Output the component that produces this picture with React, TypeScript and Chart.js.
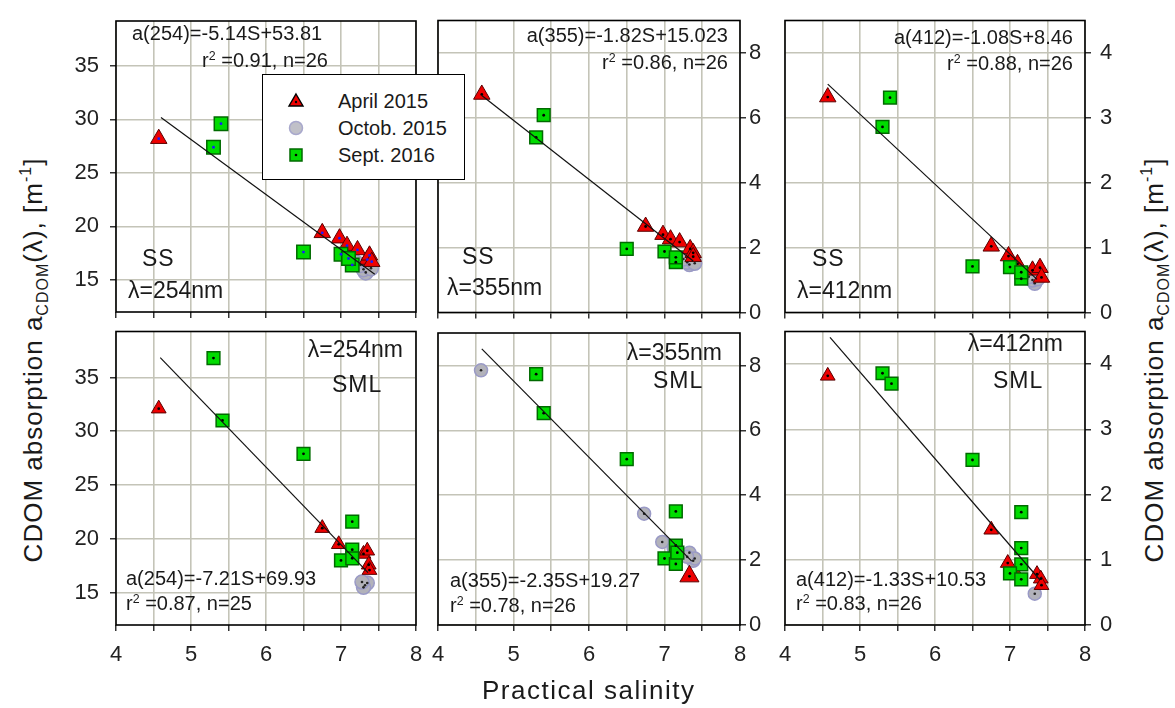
import React, { useEffect, useRef } from 'react';
import { Chart, registerables } from 'chart.js';

Chart.register(...registerables);

type Pt = [number, number];

// ---------- axis ticks ----------
const X_TICKS = [4, 4.5, 5, 5.5, 6, 6.5, 7, 7.5, 8];
const Y_TICKS_254 = [15, 20, 25, 30, 35];
const Y_TICKS_355 = [0, 2, 4, 6, 8];
const Y_TICKS_412 = [0, 1, 2, 3, 4];

const SERIES_NAMES = ['April 2015', 'Octob. 2015', 'Sept. 2016'];

// ---------- SS, 254 nm ----------
const SS254_APRIL: Pt[] = [[4.57, 28.2], [6.75, 19.4], [6.98, 18.9], [7.08, 18.2], [7.22, 17.8], [7.35, 16.9], [7.38, 17.3], [7.41, 16.7]];
const SS254_OCT: Pt[] = [[7.33, 15.7], [7.3, 16.0], [7.37, 16.3], [7.26, 16.4], [7.4, 16.1], [7.2, 16.6]];
const SS254_SEPT: Pt[] = [[5.3, 27.4], [5.4, 29.6], [6.5, 17.6], [7.0, 17.4], [7.15, 16.4], [7.1, 17.0]];
const SS254_FIT: Pt[] = [[4.6, 30.17], [7.45, 15.52]];

// ---------- SS, 355 nm ----------
const SS355_APRIL: Pt[] = [[4.58, 6.72], [6.75, 2.65], [6.98, 2.4], [7.08, 2.26], [7.2, 2.17], [7.34, 1.96], [7.38, 1.84], [7.38, 1.72]];
const SS355_OCT: Pt[] = [[7.33, 1.48], [7.3, 1.55], [7.37, 1.6], [7.25, 1.65], [7.4, 1.52]];
const SS355_SEPT: Pt[] = [[5.3, 5.4], [5.4, 6.08], [6.5, 1.96], [7.0, 1.88], [7.15, 1.55], [7.15, 1.7]];
const SS355_FIT: Pt[] = [[4.58, 6.69], [7.38, 1.59]];

// ---------- SS, 412 nm ----------
const SS412_APRIL: Pt[] = [[4.57, 3.32], [6.75, 1.02], [6.98, 0.87], [7.1, 0.75], [7.3, 0.65], [7.4, 0.69], [7.42, 0.54]];
const SS412_OCT: Pt[] = [[7.33, 0.45], [7.3, 0.5], [7.37, 0.52], [7.25, 0.55]];
const SS412_SEPT: Pt[] = [[5.3, 2.86], [5.4, 3.31], [6.5, 0.71], [7.0, 0.7], [7.15, 0.52], [7.15, 0.62]];
const SS412_FIT: Pt[] = [[4.57, 3.52], [7.36, 0.51]];

// ---------- SML, 254 nm ----------
const SML254_APRIL: Pt[] = [[4.57, 32.1], [6.75, 21.0], [6.97, 19.5], [7.3, 18.6], [7.35, 18.9], [7.37, 17.6], [7.38, 17.1]];
const SML254_OCT: Pt[] = [[7.32, 15.7], [7.35, 15.9], [7.3, 15.5], [7.28, 16.0]];
const SML254_SEPT: Pt[] = [[5.3, 36.8], [5.42, 31.0], [6.5, 27.9], [7.15, 21.6], [7.15, 19.0], [7.0, 18.0], [7.15, 18.2]];
const SML254_FIT: Pt[] = [[4.59, 36.84], [7.36, 16.86]];

// ---------- SML, 355 nm ----------
const SML355_APRIL: Pt[] = [[7.33, 1.5]];
const SML355_OCT: Pt[] = [[4.57, 7.85], [6.73, 3.43], [6.97, 2.56], [7.12, 2.38], [7.33, 2.23], [7.38, 1.98], [7.4, 2.05], [7.3, 2.1]];
const SML355_SEPT: Pt[] = [[5.3, 7.73], [5.4, 6.53], [6.5, 5.11], [7.15, 3.5], [7.15, 2.45], [7.0, 2.05], [7.15, 1.88], [7.17, 2.23]];
const SML355_FIT: Pt[] = [[4.58, 8.51], [7.36, 1.97]];

// ---------- SML, 412 nm ----------
const SML412_APRIL: Pt[] = [[4.57, 3.82], [6.75, 1.46], [6.97, 0.95], [7.09, 0.77], [7.36, 0.78], [7.41, 0.71], [7.42, 0.61]];
const SML412_OCT: Pt[] = [[7.33, 0.48]];
const SML412_SEPT: Pt[] = [[5.3, 3.86], [5.42, 3.7], [6.5, 2.53], [7.15, 1.73], [7.15, 1.18], [7.15, 0.93], [7.0, 0.79], [7.15, 0.7]];
const SML412_FIT: Pt[] = [[4.6, 4.41], [7.4, 0.69]];

// ---------- styles ----------
const FONT = '"Liberation Sans", Arial, Helvetica, sans-serif';
const GRID = '#c4c4b8';
const RED = '#ee0000';
const RED_B = '#5a0000';
const GRAY = '#b2b2ba';
const GRAY_B = '#9a9ac6';
const GREEN = '#00dc00';
const GREEN_B = '#006a00';

const framePlugin = {
  id: 'frame',
  afterDraw(chart: any) {
    const { ctx, chartArea } = chart;
    const { left, top, right, bottom } = chartArea;
    ctx.save();
    ctx.strokeStyle = '#000';
    ctx.lineWidth = 1.6;
    ctx.strokeRect(left, top, right - left, bottom - top);
    ctx.restore();
  },
};

interface PanelDef {
  left: number;
  top: number;
  width: number;
  height: number;
  yMin: number;
  yMax: number;
  yTicks: number[];
  yPos: 'left' | 'right';
  yAxisW: number;
  yPad: number;
  xLabels: boolean;
  april: Pt[];
  oct: Pt[];
  sept: Pt[];
  fit: Pt[];
  tri: number;
  sq: number;
  circ: number;
  dot: string;
}

const PANELS: PanelDef[] = [
  { left: 116, top: 14, width: 300, height: 299, yMin: 12, yMax: 39.2, yTicks: Y_TICKS_254, yPos: 'left', yAxisW: 60, yPad: 11, xLabels: false, april: SS254_APRIL, oct: SS254_OCT, sept: SS254_SEPT, fit: SS254_FIT, tri: 9.5, sq: 9.5, circ: 7.5, dot: '#1a1aff' },
  { left: 438, top: 14, width: 302, height: 299, yMin: 0, yMax: 9, yTicks: Y_TICKS_355, yPos: 'right', yAxisW: 36, yPad: 3, xLabels: false, april: SS355_APRIL, oct: SS355_OCT, sept: SS355_SEPT, fit: SS355_FIT, tri: 9.5, sq: 9, circ: 7, dot: '#000' },
  { left: 785, top: 14, width: 300, height: 299, yMin: 0, yMax: 4.5, yTicks: Y_TICKS_412, yPos: 'right', yAxisW: 40, yPad: 9, xLabels: false, april: SS412_APRIL, oct: SS412_OCT, sept: SS412_SEPT, fit: SS412_FIT, tri: 9.5, sq: 9, circ: 7, dot: '#000' },
  { left: 116, top: 325, width: 300, height: 300, yMin: 12, yMax: 39.27, yTicks: Y_TICKS_254, yPos: 'left', yAxisW: 60, yPad: 11, xLabels: true, april: SML254_APRIL, oct: SML254_OCT, sept: SML254_SEPT, fit: SML254_FIT, tri: 8.5, sq: 9, circ: 7, dot: '#000' },
  { left: 438, top: 325, width: 302, height: 300, yMin: 0, yMax: 9, yTicks: Y_TICKS_355, yPos: 'right', yAxisW: 36, yPad: 3, xLabels: true, april: SML355_APRIL, oct: SML355_OCT, sept: SML355_SEPT, fit: SML355_FIT, tri: 11, sq: 9, circ: 6.5, dot: '#000' },
  { left: 785, top: 325, width: 300, height: 300, yMin: 0, yMax: 4.5, yTicks: Y_TICKS_412, yPos: 'right', yAxisW: 40, yPad: 9, xLabels: true, april: SML412_APRIL, oct: SML412_OCT, sept: SML412_SEPT, fit: SML412_FIT, tri: 8.5, sq: 9, circ: 6.5, dot: '#000' },
];

const toXY = (a: Pt[]) => a.map(([x, y]) => ({ x, y }));

const SIDE = 14; // free margin on sides without axis
const TOPM = 4;

function Panel({ cfg }: { cfg: PanelDef }) {
  const ref = useRef<HTMLCanvasElement>(null);
  const padL = cfg.yPos === 'left' ? cfg.yAxisW : SIDE;
  const padR = cfg.yPos === 'right' ? cfg.yAxisW : SIDE;
  const xAxisH = cfg.xLabels ? 48 : 10;
  const cw = cfg.width + padL + padR;
  const ch = cfg.height + TOPM + xAxisH;

  useEffect(() => {
    if (!ref.current) return;
    const tickFont = { family: FONT, size: 22 };
    const chart = new Chart(ref.current, {
      type: 'scatter',
      data: {
        datasets: [
          { label: 'fit', data: toXY(cfg.fit), showLine: true, pointRadius: 0, borderColor: '#111', borderWidth: 1.2, order: 0 } as any,
          { label: 'sept-dot', data: toXY(cfg.sept), pointStyle: 'circle', pointRadius: 1.4, backgroundColor: cfg.dot, borderWidth: 0, order: 1 },
          { label: SERIES_NAMES[2], data: toXY(cfg.sept), pointStyle: 'rect', pointRadius: cfg.sq, backgroundColor: GREEN, borderColor: GREEN_B, borderWidth: 1.5, order: 2 },
          { label: 'april-dot', data: toXY(cfg.april), pointStyle: 'circle', pointRadius: 1.4, backgroundColor: cfg.dot, borderWidth: 0, order: 3 },
          { label: SERIES_NAMES[0], data: toXY(cfg.april), pointStyle: 'triangle', pointRadius: cfg.tri, backgroundColor: RED, borderColor: RED_B, borderWidth: 1, order: 4 },
          { label: 'oct-dot', data: toXY(cfg.oct), pointStyle: 'circle', pointRadius: 1.3, backgroundColor: '#222', borderWidth: 0, order: 5 },
          { label: SERIES_NAMES[1], data: toXY(cfg.oct), pointStyle: 'circle', pointRadius: cfg.circ, backgroundColor: GRAY, borderColor: GRAY_B, borderWidth: 1.5, order: 6 },
        ],
      },
      options: {
        animation: false,
        responsive: false,
        devicePixelRatio: 1,
        events: [],
        layout: {
          padding: {
            left: cfg.yPos === 'left' ? 0 : SIDE,
            right: cfg.yPos === 'right' ? 0 : SIDE,
            top: TOPM,
            bottom: 0,
          },
        },
        plugins: { legend: { display: false }, tooltip: { enabled: false } },
        scales: {
          x: {
            type: 'linear',
            min: 4,
            max: 8,
            afterBuildTicks: (s: any) => { s.ticks = X_TICKS.map((v) => ({ value: v })); },
            afterFit: (s: any) => { s.height = xAxisH; s.paddingLeft = 0; s.paddingRight = 0; s.paddingTop = 0; s.paddingBottom = 0; },
            grid: { color: GRID, lineWidth: 1.6, tickColor: '#000', tickLength: 6, tickWidth: 1.2 },
            border: { display: false },
            ticks: {
              autoSkip: false,
              maxRotation: 0,
              padding: 11,
              color: '#222',
              font: tickFont,
              callback: (v: any) => (cfg.xLabels && Number.isInteger(v) ? String(v) : ''),
            },
          },
          y: {
            type: 'linear',
            position: cfg.yPos,
            min: cfg.yMin,
            max: cfg.yMax,
            afterBuildTicks: (s: any) => { s.ticks = cfg.yTicks.map((v) => ({ value: v })); },
            afterFit: (s: any) => { s.width = cfg.yAxisW; s.paddingLeft = 0; s.paddingRight = 0; s.paddingTop = 0; s.paddingBottom = 0; },
            grid: { color: GRID, lineWidth: 1.6, tickColor: '#000', tickLength: 6, tickWidth: 1.2 },
            border: { display: false },
            ticks: {
              autoSkip: false,
              padding: cfg.yPad,
              color: '#222',
              font: tickFont,
              callback: (v: any) => String(v),
            },
          },
        },
      },
      plugins: [framePlugin],
    } as any);
    return () => chart.destroy();
  }, []);

  return (
    <canvas
      ref={ref}
      width={cw}
      height={ch}
      style={{ position: 'absolute', left: cfg.left - padL, top: cfg.top - TOPM, width: cw, height: ch }}
    />
  );
}

function Txt({ x, y, size = 20, align = 'left', spacing = 0, children }: any) {
  const style: any = {
    position: 'absolute',
    top: y - size * 0.49,
    fontFamily: FONT,
    fontSize: size,
    lineHeight: `${size}px`,
    whiteSpace: 'nowrap',
    color: '#1a1a1a',
    letterSpacing: spacing,
    zIndex: 5,
  };
  if (align === 'right') style.right = 1175 - x;
  else style.left = x;
  return <div style={style}>{children}</div>;
}

const Sup = ({ children }: any) => (
  <span style={{ fontSize: '0.62em', position: 'relative', top: '-0.6em' }}>{children}</span>
);

function YTitle({ x, y }: { x: number; y: number }) {
  return (
    <div
      style={{
        position: 'absolute',
        left: x,
        top: y,
        transform: 'translate(-50%, -50%) rotate(-90deg)',
        fontFamily: FONT,
        fontSize: 26,
        lineHeight: '30px',
        letterSpacing: 1,
        whiteSpace: 'nowrap',
        color: '#1a1a1a',
        zIndex: 5,
      }}
    >
      CDOM absorption a
      <span style={{ fontSize: 16, position: 'relative', top: 6 }}>CDOM</span>
      (λ), [m
      <span style={{ fontSize: 16, position: 'relative', top: -11 }}>-1</span>]
    </div>
  );
}

function Legend() {
  const rows = [
    { y: 100, shape: 'tri' },
    { y: 127, shape: 'circ' },
    { y: 154, shape: 'sq' },
  ];
  return (
    <div
      style={{
        position: 'absolute',
        left: 262,
        top: 74,
        width: 203,
        height: 106,
        boxSizing: 'border-box',
        border: '1.6px solid #000',
        background: '#fff',
        zIndex: 6,
      }}
    >
      {rows.map((r, i) => (
        <React.Fragment key={i}>
          <svg
            width={20}
            height={20}
            style={{ position: 'absolute', left: 295 - 262 - 10, top: r.y - 74 - 10 }}
          >
            {r.shape === 'tri' && (
              <>
                <polygon points="10,3 17,15 3,15" fill={RED} stroke="#000" strokeWidth={1.4} />
                <circle cx={10} cy={11} r={1.2} fill="#000" />
              </>
            )}
            {r.shape === 'circ' && <circle cx={10} cy={10} r={6.5} fill="#c0c0c8" stroke="#a8a8cc" strokeWidth={1.5} />}
            {r.shape === 'sq' && (
              <>
                <rect x={4} y={4} width={12} height={12} fill={GREEN} stroke={GREEN_B} strokeWidth={1.5} />
                <circle cx={10} cy={10} r={1.3} fill="#000" />
              </>
            )}
          </svg>
          <div
            style={{
              position: 'absolute',
              left: 337 - 262,
              top: r.y - 74 - 10,
              fontFamily: FONT,
              fontSize: 20,
              lineHeight: '20px',
              whiteSpace: 'nowrap',
              color: '#1a1a1a',
            }}
          >
            {SERIES_NAMES[i]}
          </div>
        </React.Fragment>
      ))}
    </div>
  );
}

export default function App() {
  return (
    <div style={{ position: 'absolute', left: 0, top: 0, width: 1175, height: 708, background: '#fff', overflow: 'hidden' }}>
      {PANELS.map((p, i) => (
        <Panel key={i} cfg={p} />
      ))}

      {/* top row annotations */}
      <Txt x={132} y={33}>a(254)=-5.14S+53.81</Txt>
      <Txt x={328} y={60} align="right">r<Sup>2</Sup> =0.91, n=26</Txt>
      <Txt x={142} y={258} size={23} spacing={1}>SS</Txt>
      <Txt x={128} y={290} size={23}>λ=254nm</Txt>

      <Txt x={728} y={35} align="right">a(355)=-1.82S+15.023</Txt>
      <Txt x={728} y={62} align="right">r<Sup>2</Sup> =0.86, n=26</Txt>
      <Txt x={462} y={256} size={23} spacing={1}>SS</Txt>
      <Txt x={447} y={287} size={23}>λ=355nm</Txt>

      <Txt x={1073} y={37} align="right">a(412)=-1.08S+8.46</Txt>
      <Txt x={1073} y={63} align="right">r<Sup>2</Sup> =0.88, n=26</Txt>
      <Txt x={812} y={258} size={23} spacing={1}>SS</Txt>
      <Txt x={797} y={290} size={23}>λ=412nm</Txt>

      {/* bottom row annotations */}
      <Txt x={403} y={349} size={23} align="right">λ=254nm</Txt>
      <Txt x={332} y={384} size={23} spacing={1}>SML</Txt>
      <Txt x={126} y={578}>a(254)=-7.21S+69.93</Txt>
      <Txt x={126} y={603}>r<Sup>2</Sup> =0.87, n=25</Txt>

      <Txt x={722} y={352} size={23} align="right">λ=355nm</Txt>
      <Txt x={653} y={380} size={23} spacing={1}>SML</Txt>
      <Txt x={450} y={580}>a(355)=-2.35S+19.27</Txt>
      <Txt x={450} y={605}>r<Sup>2</Sup> =0.78, n=26</Txt>

      <Txt x={1063} y={343} size={23} align="right">λ=412nm</Txt>
      <Txt x={993} y={380} size={23} spacing={1}>SML</Txt>
      <Txt x={796} y={579}>a(412)=-1.33S+10.53</Txt>
      <Txt x={796} y={603}>r<Sup>2</Sup> =0.83, n=26</Txt>

      <Legend />

      <YTitle x={35} y={360} />
      <YTitle x={1156} y={360} />
      <Txt x={589 - 107} y={690} size={26} spacing={1.5}>Practical salinity</Txt>
    </div>
  );
}
